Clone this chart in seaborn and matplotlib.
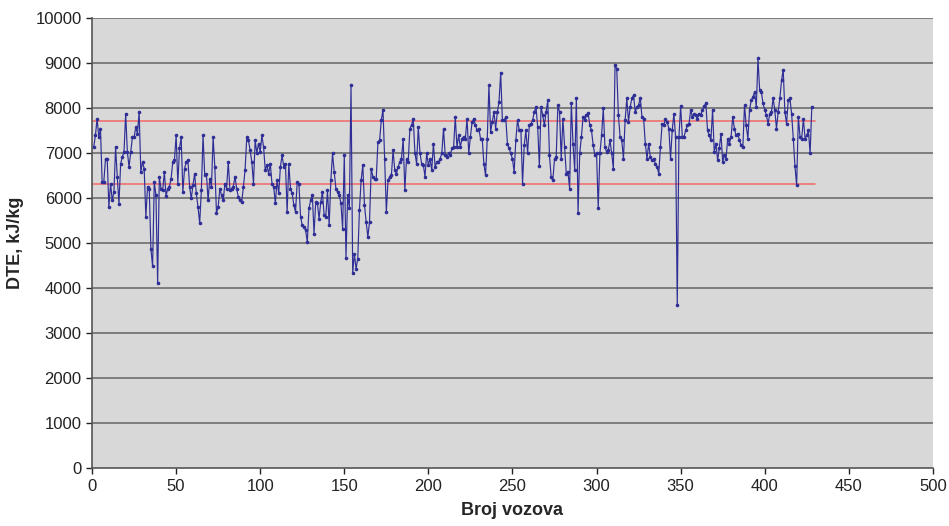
import numpy as np
import pandas as pd
import matplotlib
matplotlib.use("Agg")
import matplotlib.pyplot as plt
import seaborn as sns

# DTE values (kJ/kg) per train, in segments
dte_a = [7130,7390,7760,7350,7540,6360,6360,6870,6870,5800,6320,5950,6130,7130,6470,5870,6760,6910,7020,7870,
         7020,6690,7020,7350,7350,7570,7430,7910,6580,6800,6650,5580,6250,6210,4870,4480,6360,6060,4110,6470,
         6210,6170,6580,6040,6210,6250,6430,6800,6840,7390,6320]
dte_b = [7100,7350,6130,6650,6800,6840,6250,5990,6280,6540,6100,5800,5440,6170,7390,6500,6540,5950,6430,6250,
         7350,6690,5670,5800,6210,6060,5950,6320,6210,6800,6170,6210,6250,6470,6210,6020,5950,5910,6250,6620,
         7350,7280,7060,6800,6320,7280,7000,7210,7020,7390,7130,6620,6730,6540,6760,6320]
dte_c = [6250,5880,6390,6100,6690,6950,6690,6760,5690,6760,6210,6100,5840,5690,6360,6320,5580,5390,5360,5280,
         5020,5770,5950,6060,5210,5910,5880,5540,5910,6130,5620,5580,6170,5390,6390,6990,6580,6210,6130,6060,
         5880,5320,6950,4670,6060,5770,8500,4330,4760,4430,4650,5730,6390,6730]
dte_d = [5840,5470,5130,5470,6650,6470,6430,6430,7240,7280,7730,7960,6870,5690,6390,6470,6500,7060,6620,6540,
         6690,6800,6870,7310,6170,6870,6800,7540,7620,7760,7000,6760,7570,7000,6760,6730,6470,7000,6730,6870,
         6620,7210,6690,6800,6800,6870,7000,7540,6950,6910,7000,6950,7100,7130,7800]
dte_e = [7130,7390,7130,7320,7360,7320,7760,6990,7360,7690,7760,7610,7500,7540,7320,7320,6760,6500,7300,8500,
         7470,7690,7910,7540,7910,8130,8780,7730,7730,7790,7210,7100,6990,6870,6580,7280,7730,7520,7520,6320,
         7170,7500,6990,7610,7650,7730,7910,8020,7580,6700,8020,7840,7610,7910,8170]
dte_f = [6950,6470,6390,6870,6910,8060,7910,6870,7760,7130,6540,6580,6210,8100,7210,6620,8230,5670,6990,7360,
         7800,7730,7840,7890,7610,7500,7170,6950,6990,5780,6990,7390,7990,7130,7020,7060,7280,6990,6650,8950,
         8870,7840,7360,7280,6870,7730,8210,7690,8020,8210,8280,7910,8020,8060]
dte_g = [8230,7800,7760,7210,6870,7210,6910,6840,6870,6760,6690,6540,7130,7650,7610,7760,7690,7540,6870,7500,
         7870,7360,3620,7360,8040,7360,7360,7500,7610,7650,7960,7800,7870,7840,7760,7870,7840,7960,8040,8100,
         7500,7390,7280,7960,7020,7210,6840,7100,7430,6800,6950,6870,7320]
dte_h = [7210,7360,7800,7540,7390,7430,7280,7170,7130,8060,7610,7320,7960,8170,8240,8360,8020,9100,8390,8360,
         8100,7960,7840,7650,7870,7910,8210,7960,7540,7910,8210,8610,8850,7910,7650,8170,8210,7870,7320,6700,
         6280,7800,7360,7320,7760,7320,7390,7500,6990,8020]

limit_upper = 7700
limit_lower = 6300
limit_x = [0, 430]

x_ticks = [0, 50, 100, 150, 200, 250, 300, 350, 400, 450, 500]
y_ticks = [0, 1000, 2000, 3000, 4000, 5000, 6000, 7000, 8000, 9000, 10000]

dte = dte_a + dte_b + dte_c + dte_d + dte_e + dte_f + dte_g + dte_h
df = pd.DataFrame({"Broj vozova": np.arange(1, len(dte) + 1), "DTE": dte})

sns.set_theme(style="white")
plt.rcParams["font.family"] = ["Liberation Sans", "DejaVu Sans"]

fig = plt.figure(figsize=(9.49, 5.26), dpi=100)
ax = fig.add_axes([0.097, 0.110, 0.886, 0.856])
ax.set_facecolor("#d8d8d8")

for yv in y_ticks[1:]:
    ax.axhline(yv, color="#6e6e6e", linewidth=1.2, zorder=1)

ax.plot(limit_x, [limit_upper, limit_upper], color="#f07070", linewidth=1.2, zorder=2)
ax.plot(limit_x, [limit_lower, limit_lower], color="#f07070", linewidth=1.2, zorder=2)

sns.lineplot(data=df, x="Broj vozova", y="DTE", ax=ax, color="#2e2e96",
             linewidth=0.85, marker="o", markersize=2.6, markeredgewidth=0,
             zorder=3)

ax.set_xlim(0, 500)
ax.set_ylim(0, 10000)
ax.set_xticks(x_ticks)
ax.set_yticks(y_ticks)
ax.tick_params(axis="both", labelsize=12, colors="#222222", length=4, width=1,
               direction="out", bottom=True, left=True)
for s in ["top", "right"]:
    ax.spines[s].set_visible(False)
for s in ["left", "bottom"]:
    ax.spines[s].set_color("#555555")
    ax.spines[s].set_linewidth(1.2)

ax.set_xlabel("Broj vozova", fontsize=13, fontweight="bold", labelpad=6)
ax.set_ylabel("DTE, kJ/kg", fontsize=13, fontweight="bold", labelpad=8)

fig.savefig("out.png", dpi=100)
